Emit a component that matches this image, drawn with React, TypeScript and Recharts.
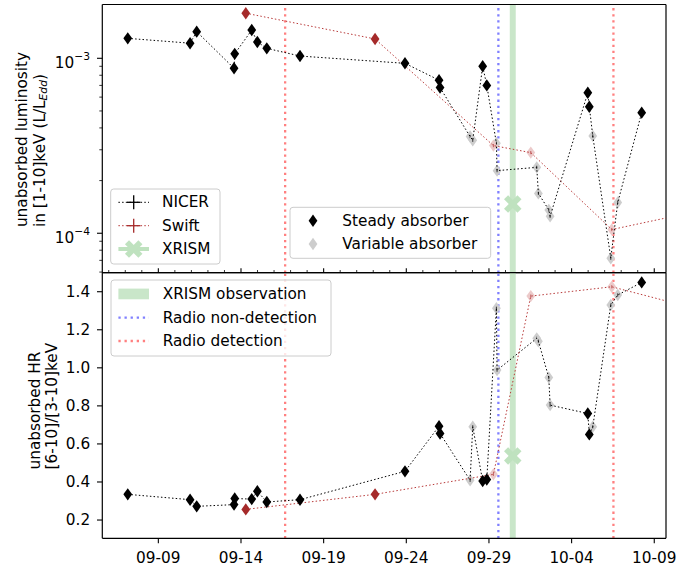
import React from 'react';
import { ComposedChart, Scatter, XAxis, YAxis, ReferenceLine, ReferenceArea } from 'recharts';

const FONT = '"DejaVu Sans", "Liberation Sans", sans-serif';
const FS = 15.3;

// ---- data (day of September; October days continue as 31, 32, ...) ----
const nicerDays = [7.15, 10.92, 11.32, 13.58, 13.62, 14.65, 14.99, 15.56, 17.57, 23.92, 25.98, 26.04, 27.86, 28.02, 28.62, 28.87, 29.45, 29.49, 31.89, 31.99, 32.62, 32.70, 34.98, 35.07, 35.28, 36.37, 36.79, 38.24];
const nicerLum = [1.30e-3, 1.22e-3, 1.42e-3, 8.77e-4, 1.06e-3, 1.45e-3, 1.24e-3, 1.14e-3, 1.03e-3, 9.36e-4, 7.5e-4, 6.8e-4, 3.57e-4, 3.4e-4, 9.0e-4, 7.0e-4, 3.27e-4, 2.28e-4, 2.38e-4, 1.69e-4, 1.36e-4, 1.25e-4, 6.36e-4, 5.29e-4, 3.6e-4, 7.2e-5, 1.5e-4, 4.89e-4];
const nicerHR = [0.335, 0.307, 0.272, 0.281, 0.313, 0.31, 0.351, 0.295, 0.307, 0.456, 0.693, 0.655, 0.409, 0.69, 0.405, 0.413, 1.313, 0.988, 1.155, 1.14, 0.949, 0.804, 0.76, 0.65, 0.69, 1.33, 1.383, 1.449];
const nicerAbsorber = ['steady', 'steady', 'steady', 'steady', 'steady', 'steady', 'steady', 'steady', 'steady', 'steady', 'steady', 'steady', 'variable', 'variable', 'steady', 'steady', 'variable', 'variable', 'variable', 'variable', 'variable', 'variable', 'steady', 'steady', 'variable', 'variable', 'variable', 'steady'];

const swiftDays = [14.29, 22.11, 29.27, 31.53, 36.43, 42.0];
const swiftLum = [1.81e-3, 1.29e-3, 3.17e-4, 2.89e-4, 1.05e-4, 1.36e-4];
const swiftHR = [0.256, 0.335, 0.44, 1.377, 1.426, 1.30];
const swiftAbsorber = ['steady', 'steady', 'variable', 'variable', 'variable', 'variable'];

const xrismDays = [30.44];
const xrismLum = [1.47e-4];
const xrismHR = [0.537];
const xrismWindow = [30.26, 30.62];

const radioNonDetection = [29.57];
const radioDetection = [16.67, 36.53];

const dateTicks = [9, 14, 19, 24, 29, 34, 39];
const dateTickLabels = ['09-09', '09-14', '09-19', '09-24', '09-29', '10-04', '10-09'];
const dayTicks = [6, 7, 8, 9, 10, 11, 12, 13, 14, 15, 16, 17, 18, 19, 20, 21, 22, 23, 24, 25, 26, 27, 28, 29, 30, 31, 32, 33, 34, 35, 36, 37, 38, 39];
const lumMajorTicks = [1e-4, 1e-3];
const lumMinorTicks = [6e-5, 7e-5, 8e-5, 9e-5, 2e-4, 3e-4, 4e-4, 5e-4, 6e-4, 7e-4, 8e-4, 9e-4];
const hrTicks = [0.2, 0.4, 0.6, 0.8, 1.0, 1.2, 1.4];

const X_DOMAIN: [number, number] = [5.61, 39.71];
const LUM_DOMAIN: [number, number] = [5.95e-5, 2.03e-3];
const HR_DOMAIN: [number, number] = [0.104, 1.5];

// ---- derived tables ----
const nicerTop = nicerDays.map((d, i) => ({ x: d, y: nicerLum[i], a: nicerAbsorber[i] }));
const nicerBot = nicerDays.map((d, i) => ({ x: d, y: nicerHR[i], a: nicerAbsorber[i] }));
const swiftTop = swiftDays.map((d, i) => ({ x: d, y: swiftLum[i], a: swiftAbsorber[i] }));
const swiftBot = swiftDays.map((d, i) => ({ x: d, y: swiftHR[i], a: swiftAbsorber[i] }));
const xrismTop = xrismDays.map((d, i) => ({ x: d, y: xrismLum[i] }));
const xrismBot = xrismDays.map((d, i) => ({ x: d, y: xrismHR[i] }));

const BLACK = '#000000';
const GRAY = '#cdcdcd';
const BROWN = '#a52a2a';
const PINK = '#eccaca';
const GREEN = '#bfe2bf';
const BAND = '#c9e6c9';
const RED_V = '#ff8080';
const BLUE_V = '#8080ff';

const Diamond = (fill: string, err?: string) => (p: any) => {
  const { cx, cy } = p;
  if (cx == null || cy == null) return <g />;
  return (
    <g>
      <polygon points={`${cx},${cy - 6.2} ${cx + 4.4},${cy} ${cx},${cy + 6.2} ${cx - 4.4},${cy}`} fill={fill} />
      {err && <line x1={cx} x2={cx} y1={cy - 1.6} y2={cy + 1.6} stroke={err} strokeWidth={1} />}
    </g>
  );
};
const Nothing = () => <g />;
const XMark = (p: any) => {
  const { cx, cy } = p;
  if (cx == null || cy == null) return <g />;
  return (
    <g transform={`translate(${cx},${cy})`}>
      <rect x={-9.5} y={-2.9} width={19} height={5.8} fill={GREEN} transform="rotate(45)" />
      <rect x={-9.5} y={-2.9} width={19} height={5.8} fill={GREEN} transform="rotate(-45)" />
    </g>
  );
};

const UpTick = (p: any) => {
  const { x, y, payload } = p;
  const major = dateTicks.includes(payload.value);
  return <line x1={x} x2={x} y1={y} y2={y - (major ? 4.5 : 2.7)} stroke={BLACK} strokeWidth={major ? 1.1 : 0.8} />;
};
const TopTick = (p: any) => {
  const { x, y, payload } = p;
  const major = dateTicks.includes(payload.value);
  return major ? (
    <line x1={x} x2={x} y1={y} y2={y + 6.5} stroke={BLACK} strokeWidth={1.1} />
  ) : (
    <line x1={x} x2={x} y1={y} y2={y - 2.7} stroke={BLACK} strokeWidth={0.8} />
  );
};
const LogTick = (p: any) => {
  const { x, y, payload } = p;
  const v = payload.value;
  const major = lumMajorTicks.some((m) => Math.abs(m - v) / m < 1e-6);
  const exp = Math.round(Math.log10(v));
  return (
    <g>
      <line x1={x} x2={x - (major ? 5.3 : 3)} y1={y} y2={y} stroke={BLACK} strokeWidth={major ? 1.1 : 0.8} />
      {major && (
        <text x={x - 12.3} y={y + 10} textAnchor="end" fontFamily={FONT} fontSize={FS} fill={BLACK}>
          10<tspan dy={-7.8} fontSize={FS * 0.7}>{'\u2212' + Math.abs(exp)}</tspan>
        </text>
      )}
    </g>
  );
};

const TopYLabel = (p: any) => {
  const vb = p.viewBox || { x: 0, y: 0, width: 0, height: 0 };
  const start = vb.y + vb.height / 2 + 88.5;
  const x1 = vb.x + 22;
  const x2 = vb.x + 40;
  return (
    <g fontFamily={FONT} fontSize={FS} fill={BLACK}>
      <text x={x1} y={start} transform={`rotate(-90 ${x1} ${start})`} dominantBaseline="central">unabsorbed luminosity</text>
      <text x={x2} y={start} transform={`rotate(-90 ${x2} ${start})`} dominantBaseline="central">
        in [1-10]keV (L/L<tspan fontStyle="italic" fontSize={FS * 0.7} dy={3}>Edd</tspan><tspan dy={-3}>)</tspan>
      </text>
    </g>
  );
};
const BotYLabel = (p: any) => {
  const vb = p.viewBox || { x: 0, y: 0, width: 0, height: 0 };
  const start = vb.y + vb.height / 2 + 64;
  const x1 = vb.x + 35;
  const x2 = vb.x + 52;
  return (
    <g fontFamily={FONT} fontSize={FS} fill={BLACK}>
      <text x={x1} y={start} transform={`rotate(-90 ${x1} ${start})`} dominantBaseline="central">unabsorbed HR</text>
      <text x={x2} y={start} transform={`rotate(-90 ${x2} ${start})`} dominantBaseline="central">[6-10]/[3-10]keV</text>
    </g>
  );
};

const thinDot = '1.5 2.2';
const radioDash = '2.3 3.8';

const markers = (nicer: any[], swift: any[], xrism: any[]) => [
  <ReferenceArea key="band" x1={xrismWindow[0]} x2={xrismWindow[1]} fill={BAND} fillOpacity={1} stroke="none" ifOverflow="hidden" />,
  ...radioNonDetection.map((d, i) => (
    <ReferenceLine key={'nd' + i} x={d} stroke={BLUE_V} strokeWidth={2.3} strokeDasharray={radioDash} ifOverflow="hidden" />
  )),
  ...radioDetection.map((d, i) => (
    <ReferenceLine key={'rd' + i} x={d} stroke={RED_V} strokeWidth={2.3} strokeDasharray={radioDash} ifOverflow="hidden" />
  )),
  <Scatter key="nv" data={nicer.filter((p) => p.a === 'variable')} shape={Diamond(GRAY, '#333')} isAnimationActive={false} />,
  <Scatter key="sv" data={swift.filter((p) => p.a === 'variable')} shape={Diamond(PINK, '#c06060')} isAnimationActive={false} />,
  <Scatter key="nl" data={nicer} shape={Nothing} line={{ stroke: BLACK, strokeWidth: 1, strokeDasharray: thinDot }} isAnimationActive={false} />,
  <Scatter key="sl" data={swift} shape={Nothing} line={{ stroke: '#b83a3a', strokeWidth: 1, strokeDasharray: thinDot }} isAnimationActive={false} />,
  <Scatter key="ns" data={nicer.filter((p) => p.a === 'steady')} shape={Diamond(BLACK)} isAnimationActive={false} />,
  <Scatter key="ss" data={swift.filter((p) => p.a === 'steady')} shape={Diamond(BROWN)} isAnimationActive={false} />,
  <Scatter key="x" data={xrism} shape={XMark} isAnimationActive={false} />,
  <ReferenceArea key="frame" fill="none" stroke={BLACK} strokeWidth={1.2} ifOverflow="hidden" />,
];

const axisLine = { stroke: BLACK, strokeWidth: 1.2 };
const tickFont = { fill: BLACK, fontSize: FS, fontFamily: FONT };

const TopPanel = () => (
  <ComposedChart width={678} height={280} margin={{ top: 3.5, right: 11, bottom: 6.3, left: 0 }}>
    <XAxis xAxisId={0} type="number" dataKey="x" domain={X_DOMAIN} allowDataOverflow ticks={dayTicks} interval={0}
      tick={<UpTick />} tickLine={false} tickSize={0} tickMargin={0} height={1} axisLine={axisLine} />
    <XAxis xAxisId="top" orientation="top" type="number" domain={X_DOMAIN} allowDataOverflow ticks={dayTicks} interval={0}
      tick={<TopTick />} tickLine={false} tickSize={0} tickMargin={0} height={1} axisLine={axisLine} />
    <YAxis yAxisId={0} type="number" dataKey="y" scale="log" domain={LUM_DOMAIN} allowDataOverflow
      ticks={[...lumMinorTicks, ...lumMajorTicks]} interval={0} tick={<LogTick />} tickLine={false} tickSize={0} tickMargin={0}
      width={102.3} axisLine={axisLine} label={{ content: (p: any) => <TopYLabel {...p} /> }} />
    <YAxis yAxisId="r" orientation="right" type="number" domain={[0, 1]} width={1} tick={false} tickLine={false} axisLine={axisLine} />
    {markers(nicerTop, swiftTop, xrismTop)}
  </ComposedChart>
);

const BottomPanel = () => (
  <ComposedChart width={678} height={310} margin={{ top: 9.7, right: 11, bottom: 0, left: 0 }}>
    <XAxis xAxisId={0} type="number" dataKey="x" domain={X_DOMAIN} allowDataOverflow ticks={dateTicks} interval={0}
      tickFormatter={(v: number) => dateTickLabels[dateTicks.indexOf(v)] ?? ''} tick={tickFont}
      tickLine={{ stroke: BLACK, strokeWidth: 1.1 }} tickSize={5} tickMargin={8.4} height={33.7} axisLine={axisLine} />
    <XAxis xAxisId="top" orientation="top" type="number" domain={X_DOMAIN} allowDataOverflow tick={false} tickLine={false}
      height={1} axisLine={axisLine} />
    <YAxis yAxisId={0} type="number" dataKey="y" domain={HR_DOMAIN} allowDataOverflow ticks={hrTicks} interval={0}
      tickFormatter={(v: number) => v.toFixed(1)} tick={tickFont} tickLine={{ stroke: BLACK, strokeWidth: 1.1 }}
      tickSize={5.3} tickMargin={6.8} width={102.3} axisLine={axisLine} label={{ content: (p: any) => <BotYLabel {...p} /> }} />
    <YAxis yAxisId="r" orientation="right" type="number" domain={[0, 1]} width={1} tick={false} tickLine={false} axisLine={axisLine} />
    {markers(nicerBot, swiftBot, xrismBot)}
  </ComposedChart>
);

const LegendBox = ({ x, y, w, h }: { x: number; y: number; w: number; h: number }) => (
  <rect x={x} y={y} width={w} height={h} rx={3} fill="#ffffff" fillOpacity={0.8} stroke="#cccccc" strokeWidth={1} />
);

const Legends = () => {
  const t = { fontFamily: FONT, fontSize: FS, fill: BLACK, dominantBaseline: 'central' as const };
  return (
    <svg width={678} height={572} style={{ position: 'absolute', left: 0, top: 0, pointerEvents: 'none' }}>
      {/* instruments */}
      <LegendBox x={110.7} y={189} w={109.3} h={75} />
      <g>
        <line x1={118.4} x2={149} y1={202.3} y2={202.3} stroke={BLACK} strokeWidth={1} strokeDasharray={thinDot} />
        <line x1={133.7} x2={133.7} y1={195.3} y2={209.3} stroke={BLACK} strokeWidth={1.3} />
        <line x1={127} x2={140.4} y1={202.3} y2={202.3} stroke={BLACK} strokeWidth={1.3} />
        <text x={162} y={202.3} {...t}>NICER</text>
        <line x1={118.4} x2={149} y1={225.7} y2={225.7} stroke="#b83a3a" strokeWidth={1} strokeDasharray={thinDot} />
        <line x1={133.7} x2={133.7} y1={218.7} y2={232.7} stroke={BROWN} strokeWidth={1.3} />
        <line x1={127} x2={140.4} y1={225.7} y2={225.7} stroke={BROWN} strokeWidth={1.3} />
        <text x={162} y={225.7} {...t}>Swift</text>
        <line x1={118.4} x2={149} y1={249} y2={249} stroke={GREEN} strokeWidth={4} />
        <g transform="translate(133.7,249)">
          <rect x={-9.5} y={-2.9} width={19} height={5.8} fill={GREEN} transform="rotate(45)" />
          <rect x={-9.5} y={-2.9} width={19} height={5.8} fill={GREEN} transform="rotate(-45)" />
        </g>
        <text x={162} y={249} {...t}>XRISM</text>
      </g>
      {/* absorber */}
      <LegendBox x={290} y={207.3} w={200.7} h={51} />
      <g>
        <polygon points="313,214.5 317.4,220.7 313,226.9 308.6,220.7" fill={BLACK} />
        <text x={342.3} y={220.7} {...t}>Steady absorber</text>
        <polygon points="313,237.8 317.4,244 313,250.2 308.6,244" fill={GRAY} />
        <text x={342.3} y={244} {...t}>Variable absorber</text>
      </g>
      {/* observations */}
      <LegendBox x={111} y={280} w={220} h={76} />
      <g>
        <rect x={118.4} y={288.6} width={30.6} height={10.7} fill={BAND} />
        <text x={162.7} y={294} {...t}>XRISM observation</text>
        <line x1={118.4} x2={149} y1={317.7} y2={317.7} stroke={BLUE_V} strokeWidth={2.3} strokeDasharray={radioDash} />
        <text x={162.7} y={317.7} {...t}>Radio non-detection</text>
        <line x1={118.4} x2={149} y1={341} y2={341} stroke={RED_V} strokeWidth={2.3} strokeDasharray={radioDash} />
        <text x={162.7} y={341} {...t}>Radio detection</text>
      </g>
    </svg>
  );
};

export default function App() {
  return (
    <div style={{ position: 'absolute', left: 0, top: 0, width: 678, height: 572, background: '#fff' }}>
      <div style={{ position: 'absolute', left: 0, top: 0 }}>
        <TopPanel />
      </div>
      <div style={{ position: 'absolute', left: 0, top: 262 }}>
        <BottomPanel />
      </div>
      <Legends />
    </div>
  );
}
